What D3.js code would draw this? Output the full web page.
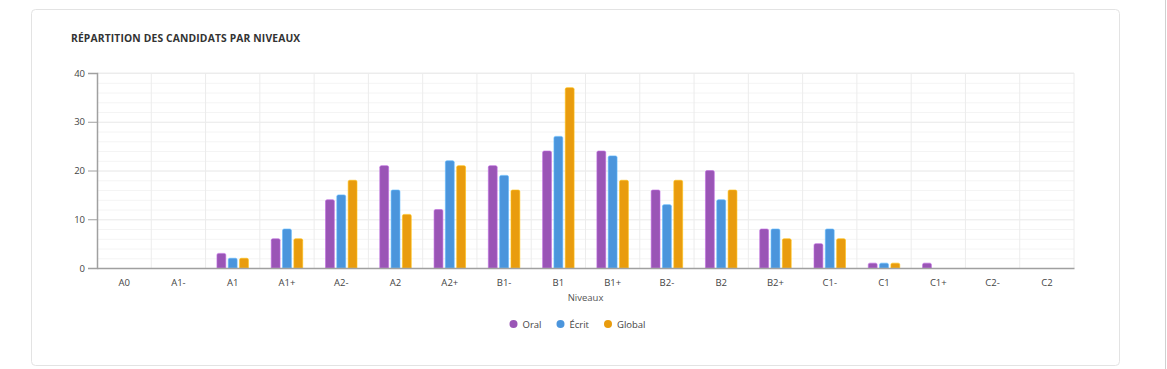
<!DOCTYPE html>
<html>
<head>
<meta charset="utf-8">
<script src="https://cdn.jsdelivr.net/npm/d3@7"></script>
<style>
  body { margin: 0; background: #fff; font-family: "Open Sans", "Noto Sans", sans-serif; }
  .grid line { stroke: #ececec; }
  .grid.minor line { stroke: #f4f4f4; }
  .grid path { display: none; }
</style>
</head>
<body>
<script>
// Data
var levels = ["A0","A1-","A1","A1+","A2-","A2","A2+","B1-","B1","B1+","B2-","B2","B2+","C1-","C1","C1+","C2-","C2"];
var oral   = [0,0,3,6,14,21,12,21,24,24,16,20,8,5,1,1,0,0];
var ecrit  = [0,0,2,8,15,16,22,19,27,23,13,14,8,8,1,0,0,0];
var global = [0,0,2,6,18,11,21,16,37,18,18,16,6,6,1,0,0,0];
var seriesNames = ["Oral","Écrit","Global"];
var seriesColors = ["#9a55b6","#4b95dc","#e99c0e"];
var yTicks = [0,10,20,30,40];

var W = 1167, H = 369;
var margin = {left: 97, right: 93, top: 73, bottom: 101};
var width = W - margin.left - margin.right,
    height = H - margin.top - margin.bottom;

var root = d3.select("body").append("svg")
    .attr("width", W)
    .attr("height", H);

// card
root.append("rect")
    .attr("x", 31.5).attr("y", 9.5)
    .attr("width", 1088).attr("height", 356)
    .attr("rx", 4)
    .attr("fill", "#fff")
    .attr("stroke", "#e3e3e3");

// window edge on the right
root.append("line")
    .attr("x1", 1165.5).attr("x2", 1165.5)
    .attr("y1", 0).attr("y2", H)
    .attr("stroke", "#d0d0d0");

root.append("text")
    .attr("x", 71).attr("y", 41.5)
    .attr("font-size", 10.3)
    .attr("font-weight", 700)
    .attr("letter-spacing", 0.15)
    .attr("fill", "#333")
    .attr("font-family", "'Open Sans', sans-serif")
    .text("RÉPARTITION DES CANDIDATS PAR NIVEAUX");

var svg = root.append("g")
    .attr("transform", "translate(" + margin.left + "," + margin.top + ")");

var x = d3.scaleBand()
    .domain(levels)
    .range([0, width])
    .paddingInner(0)
    .paddingOuter(0);

var y = d3.scaleLinear()
    .domain([0, 40])
    .range([height, 0]);

var xs = d3.scaleBand()
    .domain(seriesNames)
    .range([0, x.bandwidth() * 0.58])
    .paddingInner(0.22);

// minor horizontal grid
svg.append("g")
    .attr("class", "grid minor")
    .call(d3.axisLeft(y).ticks(20).tickSize(-width).tickFormat(""));

// major horizontal grid
svg.append("g")
    .attr("class", "grid")
    .call(d3.axisLeft(y).tickValues(yTicks).tickSize(-width).tickFormat(""));

// vertical grid at category edges
svg.append("g")
    .attr("class", "grid")
    .selectAll("line")
    .data(levels.slice(1).concat(["end"]))
    .join("line")
        .attr("x1", function(d, i) { return x.step() * (i + 1); })
        .attr("x2", function(d, i) { return x.step() * (i + 1); })
        .attr("y1", 0)
        .attr("y2", height)
        .attr("stroke", "#ececec");

// top border of plot
svg.append("line")
    .attr("x1", 0).attr("x2", width)
    .attr("y1", 0).attr("y2", 0)
    .attr("stroke", "#ececec");

// bars
var table = levels.map(function(l, i) {
    return { level: l, values: [oral[i], ecrit[i], global[i]] };
});

var groups = svg.selectAll("g.cat")
    .data(table)
    .join("g")
        .attr("class", "cat")
        .attr("transform", function(d) {
            return "translate(" + (x(d.level) + (x.bandwidth() - xs.range()[1]) / 2) + ",0)";
        });

groups.selectAll("path")
    .data(function(d) {
        return d.values.map(function(v, k) { return {v: v, k: k}; })
                       .filter(function(e) { return e.v > 0; });
    })
    .join("path")
        .attr("d", function(d) {
            var x0 = xs(seriesNames[d.k]), w = xs.bandwidth();
            var y0 = y(d.v), y1 = y(0), r = 1.5;
            return "M" + x0 + "," + y1 +
                   "V" + (y0 + r) +
                   "Q" + x0 + "," + y0 + " " + (x0 + r) + "," + y0 +
                   "H" + (x0 + w - r) +
                   "Q" + (x0 + w) + "," + y0 + " " + (x0 + w) + "," + (y0 + r) +
                   "V" + y1 + "Z";
        })
        .attr("fill", function(d) { return seriesColors[d.k]; })
        .attr("stroke", function(d) { return d3.color(seriesColors[d.k]).brighter(0.6); })
        .attr("stroke-width", 0.6);

// y axis
var yAxis = svg.append("g")
    .call(d3.axisLeft(y).tickValues(yTicks).tickSize(9).tickPadding(3));
yAxis.select(".domain").attr("stroke", "#a0a0a0").attr("stroke-width", 1.5);
yAxis.selectAll(".tick line").attr("stroke", "#a0a0a0");
yAxis.selectAll("text").attr("font-size", 9.5).attr("fill", "#444")
    .attr("font-family", "'Open Sans', sans-serif");

// x axis
var xAxis = svg.append("g")
    .attr("transform", "translate(0," + height + ")")
    .call(d3.axisBottom(x).tickSize(0).tickPadding(11));
xAxis.select(".domain").attr("stroke", "#a0a0a0").attr("stroke-width", 1.5);
xAxis.selectAll("text").attr("font-size", 9.5).attr("fill", "#444")
    .attr("font-family", "'Open Sans', sans-serif");

// x axis title
svg.append("text")
    .attr("x", width / 2)
    .attr("y", height + 33)
    .attr("text-anchor", "middle")
    .attr("font-size", 9.5)
    .attr("fill", "#555")
    .text("Niveaux");

// legend
var legendX = [513.5, 560.5, 608];
var legend = root.append("g")
    .selectAll("g")
    .data(seriesNames)
    .join("g")
        .attr("transform", function(d, i) { return "translate(" + legendX[i] + ",324)"; });
legend.append("circle")
    .attr("r", 4)
    .attr("fill", function(d, i) { return seriesColors[i]; });
legend.append("text")
    .attr("x", 9)
    .attr("y", 3.5)
    .attr("font-size", 9.5)
    .attr("fill", "#444")
    .text(function(d) { return d; });
</script>
</body>
</html>
